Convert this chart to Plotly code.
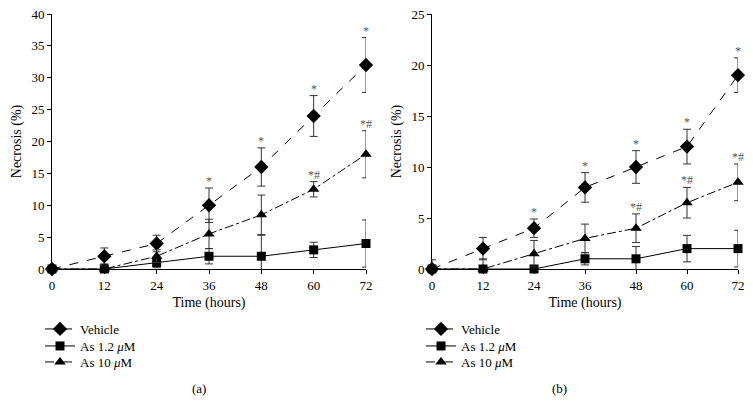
import plotly.graph_objects as go

hours = [0, 12, 24, 36, 48, 60, 72]
tick_labels = ["0", "12", "24", "36", "48", "60", "72"]

# Panel (a)
a_vehicle = [0, 2, 4, 10, 16, 24, 32]
a_vehicle_err = [0, 1.3, 1.3, 2.7, 3.0, 3.2, 4.3]
a_as12 = [0, 0, 1, 2, 2, 3, 4]
a_as12_err = [0, 0.8, 0.8, 1.2, 3.3, 1.2, 3.7]
a_as10 = [0, 0, 2, 5.5, 8.5, 12.5, 18]
a_as10_err = [0, 0.5, 1.0, 2.3, 3.1, 1.2, 3.7]
a_star_vehicle_hours = [36, 48, 60, 72]
a_starhash_as10_hours = [60, 72]

# Panel (b)
b_vehicle = [0, 2, 4, 8, 10, 12, 19]
b_vehicle_err = [0.9, 1.1, 0.9, 1.45, 1.6, 1.7, 1.7]
b_as12 = [0, 0, 0, 1, 1, 2, 2]
b_as12_err = [0, 1.0, 0, 0.6, 1.2, 1.3, 1.8]
b_as10 = [0, 0, 1.5, 3, 4, 6.5, 8.5]
b_as10_err = [0, 0, 1.3, 1.4, 1.4, 1.5, 1.8]
b_star_vehicle_hours = [24, 36, 48, 60, 72]
b_starhash_as10_hours = [48, 60, 72]

series_names = ["Vehicle", "As 1.2 <i>μ</i>M", "As 10 <i>μ</i>M"]
FONT = "Liberation Serif"
OFF = 8                      # browser body margin
W, H = 753 - OFF, 414 - OFF  # figure size so it fits the window


def fx(px):
    return (px - OFF) / W


def fy(py):
    return 1 - (py - OFF) / H


fig = go.Figure()

styles = [
    dict(dash="dash", symbol="diamond", size=11),
    dict(dash="solid", symbol="square", size=9),
    dict(dash="dashdot", symbol="triangle-up", size=10),
]
legend_rows = [329, 346, 362]

legend_defs = {}


def add_panel(xa, ya, legend_ids, legend_x, data):
    for (vals, errs), name, st, lid, row in zip(data, series_names, styles, legend_ids, legend_rows):
        fig.add_trace(go.Scatter(
            x=hours, y=vals, name=name, mode="lines+markers",
            xaxis=xa, yaxis=ya, legend=lid, cliponaxis=False,
            line=dict(color="black", width=1, dash=st["dash"]),
            marker=dict(color="black", symbol=st["symbol"], size=st["size"]),
            error_y=dict(type="data", array=errs, visible=True,
                         color="#333333", thickness=1, width=4),
        ))
        legend_defs[lid] = dict(x=fx(legend_x), y=fy(row), xanchor="left", yanchor="middle",
                                itemwidth=30, font=dict(family=FONT, size=13, color="black"),
                                bgcolor="rgba(0,0,0,0)", borderwidth=0)


add_panel("x", "y", ["legend", "legend2", "legend3"], 40,
          [(a_vehicle, a_vehicle_err), (a_as12, a_as12_err), (a_as10, a_as10_err)])
add_panel("x2", "y2", ["legend4", "legend5", "legend6"], 421,
          [(b_vehicle, b_vehicle_err), (b_as12, b_as12_err), (b_as10, b_as10_err)])

annotations = []


def add_marks(xref, yref, hrs, vals, errs, text):
    for h in hrs:
        i = hours.index(h)
        annotations.append(dict(x=h, y=vals[i] + errs[i], xref=xref, yref=yref,
                                text=text, showarrow=False, yanchor="bottom", yshift=-2,
                                font=dict(family=FONT, size=12, color="#555555")))


add_marks("x", "y", a_star_vehicle_hours, a_vehicle, a_vehicle_err, "*")
add_marks("x", "y", a_starhash_as10_hours, a_as10, a_as10_err, "*#")
add_marks("x2", "y2", b_star_vehicle_hours, b_vehicle, b_vehicle_err, "*")
add_marks("x2", "y2", b_starhash_as10_hours, b_as10, b_as10_err, "*#")

annotations.append(dict(x=fx(190), y=fy(388), xref="paper", yref="paper", text="(a)",
                        showarrow=False, yanchor="middle",
                        font=dict(family=FONT, size=13, color="black")))
annotations.append(dict(x=fx(569), y=fy(388), xref="paper", yref="paper", text="(b)",
                        showarrow=False, yanchor="middle",
                        font=dict(family=FONT, size=13, color="black")))

axis_common = dict(showline=True, linecolor="black", linewidth=1, ticks="outside",
                   ticklen=4, tickcolor="black", showgrid=False, zeroline=False,
                   automargin=False, ticklabeloverflow="allow",
                   tickfont=dict(family=FONT, size=13, color="black"))
title_font = dict(family=FONT, size=14, color="black")

fig.update_layout(
    width=W, height=H, margin=dict(l=0, r=0, t=0, b=0, autoexpand=False),
    paper_bgcolor="white", plot_bgcolor="white",
    font=dict(family=FONT, size=13, color="black"),
    xaxis=dict(domain=[fx(52), fx(366)], range=[0, 72], tickvals=hours, ticktext=tick_labels,
               anchor="y", title=dict(text="Time (hours)", standoff=5, font=title_font), **axis_common),
    yaxis=dict(domain=[fy(269), fy(14)], range=[0, 40], dtick=5, anchor="x",
               title=dict(text="Necrosis (%)", standoff=6, font=title_font), **axis_common),
    xaxis2=dict(domain=[fx(432), fx(738)], range=[0, 72], tickvals=hours, ticktext=tick_labels,
                anchor="y2", title=dict(text="Time (hours)", standoff=5, font=title_font), **axis_common),
    yaxis2=dict(domain=[fy(269), fy(14)], range=[0, 25], dtick=5, anchor="x2",
                title=dict(text="Necrosis (%)", standoff=6, font=title_font), **axis_common),
    annotations=annotations,
    showlegend=True,
    **legend_defs,
)

fig.write_html("out.html")
